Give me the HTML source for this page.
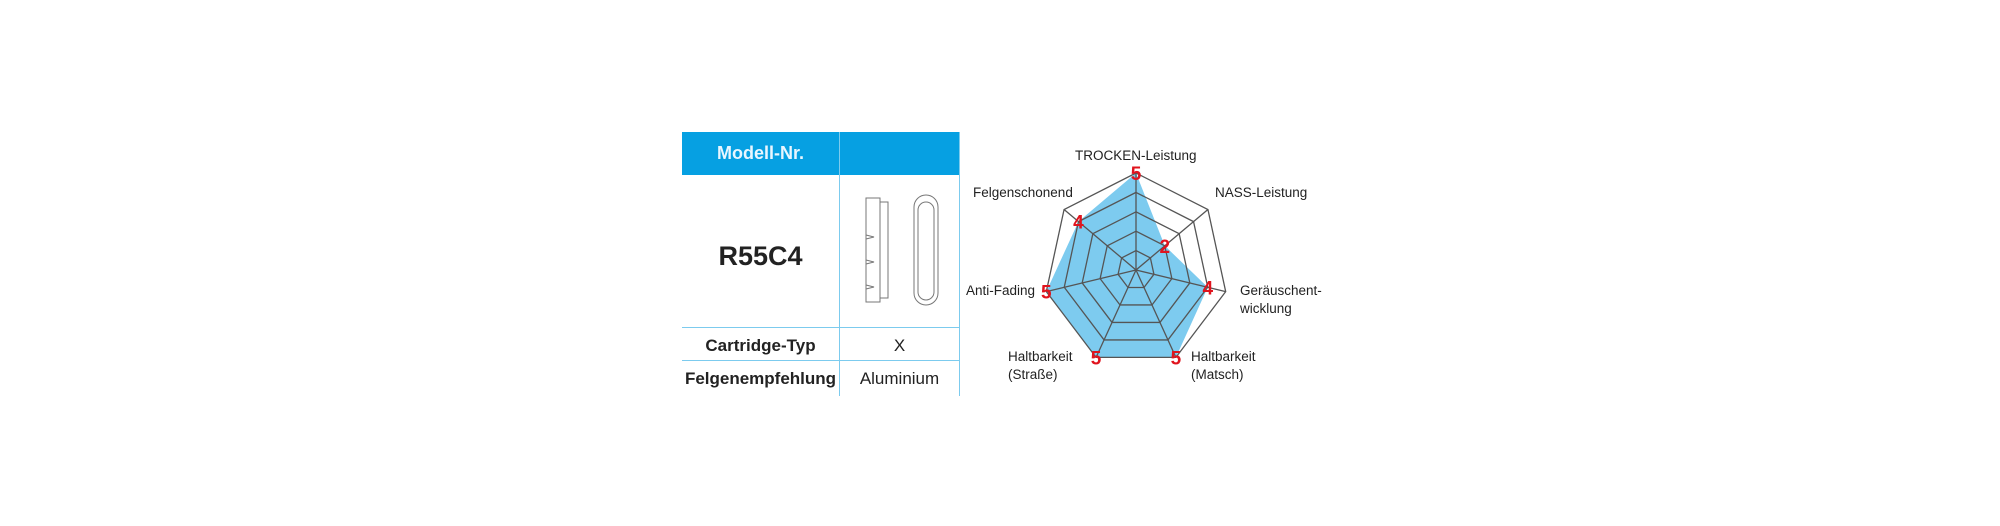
<!DOCTYPE html>
<html><head><style>
body{margin:0;width:2000px;height:526px;background:#fff;position:relative;font-family:"Liberation Sans",sans-serif;overflow:hidden}
.a{position:absolute}
.l{position:absolute;font-size:13.5px;color:#222;line-height:18px}
</style></head><body>
<div class="a" style="left:682px;top:132px;width:278px;height:43px;background:#06a0e2"></div>
<div class="a" style="left:839px;top:132px;width:1px;height:264px;background:#7ccbee"></div>
<div class="a" style="left:959px;top:132px;width:1px;height:264px;background:#7ccbee"></div>
<div class="a" style="left:682px;top:327px;width:278px;height:1px;background:#7ccbee"></div>
<div class="a" style="left:682px;top:360px;width:278px;height:1px;background:#7ccbee"></div>
<div class="a" style="left:682px;top:143px;width:157px;text-align:center;color:#e8f6ff;font-weight:bold;font-size:18px">Modell-Nr.</div>
<div class="a" style="left:682px;top:241px;width:157px;text-align:center;color:#222;font-weight:bold;font-size:27px">R55C4</div>
<div class="a" style="left:682px;top:336px;width:157px;text-align:center;color:#222;font-weight:bold;font-size:17px">Cartridge-Typ</div>
<div class="a" style="left:840px;top:336px;width:119px;text-align:center;color:#222;font-size:17px">X</div>
<div class="a" style="left:682px;top:369px;width:157px;text-align:center;color:#222;font-weight:bold;font-size:17px">Felgenempfehlung</div>
<div class="a" style="left:840px;top:369px;width:119px;text-align:center;color:#222;font-size:17px">Aluminium</div>
<svg class="a" style="left:860px;top:190px" width="80" height="120" fill="none" stroke="#777" stroke-width="1">
<rect x="6" y="8" width="14" height="104"/><rect x="20" y="12" width="8" height="96"/>
<path d="M6 45 l8 2 l-8 2 M6 70 l8 2 l-8 2 M6 95 l8 2 l-8 2"/>
<rect x="54" y="5" width="24" height="110" rx="12"/><rect x="58" y="12" width="16" height="98" rx="8"/>
</svg>
<svg class="a" style="left:0;top:0" width="2000" height="526">
<g id="g" fill="none" stroke="#555" stroke-width="1.3"></g>
</svg>
<script>
var cx=1136,cy=270,RX=92,RY=97,d=[5,2,4,5,5,5,4],s='';
function p(k,f){var a=(-90+k*360/7)*Math.PI/180;return [cx+RX*f*Math.cos(a),cy+RY*f*Math.sin(a)];}
var poly=[];for(var k=0;k<7;k++)poly.push(p(k,d[k]/5).join(','));
s+='<polygon points="'+poly.join(' ')+'" fill="#7dcbef" stroke="none"/>';
for(var l=1;l<=5;l++){var q=[];for(k=0;k<7;k++)q.push(p(k,l/5).join(','));s+='<polygon points="'+q.join(' ')+'"/>';}
for(k=0;k<7;k++){var e=p(k,1);s+='<line x1="'+cx+'" y1="'+cy+'" x2="'+e[0]+'" y2="'+e[1]+'"/>';}
for(k=0;k<7;k++){var e=p(k,d[k]/5);s+='<text x="'+e[0]+'" y="'+(e[1]+7)+'" fill="#e0141e" stroke="none" font-weight="bold" font-size="19" text-anchor="middle" font-family="Liberation Sans">'+d[k]+'</text>';}
document.getElementById('g').innerHTML=s;
</script>
<div class="l" style="left:1075px;top:147px">TROCKEN-Leistung</div>
<div class="l" style="left:1215px;top:184px">NASS-Leistung</div>
<div class="l" style="left:973px;top:184px">Felgenschonend</div>
<div class="l" style="left:966px;top:282px">Anti-Fading</div>
<div class="l" style="left:1240px;top:282px">Geräuschent-<br>wicklung</div>
<div class="l" style="left:1008px;top:348px">Haltbarkeit<br>(Straße)</div>
<div class="l" style="left:1191px;top:348px">Haltbarkeit<br>(Matsch)</div>
</body></html>
